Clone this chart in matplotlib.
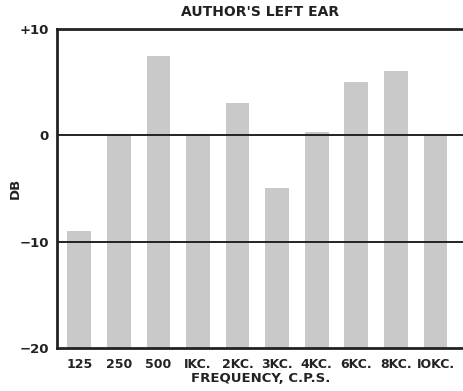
import matplotlib
matplotlib.use("Agg")
import matplotlib.pyplot as plt
import numpy as np

categories = ["125", "250", "500", "IKC.", "2KC.", "3KC.", "4KC.", "6KC.", "8KC.", "IOKC."]
values = [-9, 0, 7.5, 0, 3, -5, 0.3, 5, 6, 0]
yticks = [10, 0, -10, -20]
ytick_labels = ["+10", "0", "\u221210", "\u221220"]

fig = plt.figure(figsize=(4.64, 3.91), dpi=100)
ax = fig.add_axes([0.123, 0.110, 0.877, 0.816])
x = np.arange(len(categories))
base = -20
ax.bar(x, [v - base for v in values], bottom=base, width=0.6, color="#c9c9c9", zorder=1)
for yv in [0, -10]:
    ax.axhline(yv, color="#222222", lw=1.4, zorder=2)
ax.set_ylim(-20, 10)
ax.set_xlim(-0.56, 9.72)
ax.set_yticks(yticks)
ax.set_yticklabels(ytick_labels)
ax.set_xticks(x)
ax.set_xticklabels(categories)
ax.tick_params(axis="y", length=0, labelsize=9.5, colors="#222222", pad=6)
ax.tick_params(axis="x", length=0, labelsize=9, colors="#222222", pad=7)
for lbl in ax.get_xticklabels() + ax.get_yticklabels():
    lbl.set_fontweight("bold")
for s in ["left", "top", "bottom"]:
    ax.spines[s].set_linewidth(2)
    ax.spines[s].set_color("#222222")
ax.spines["right"].set_visible(False)
ax.set_title("AUTHOR'S LEFT EAR", fontsize=10, fontweight="bold", color="#222222", pad=9)
ax.set_xlabel("FREQUENCY, C.P.S.", fontsize=9.5, fontweight="bold", color="#222222", labelpad=1)
ax.set_ylabel("DB", fontsize=9.5, fontweight="bold", color="#222222", labelpad=-2)
fig.savefig("out.png", dpi=100)
